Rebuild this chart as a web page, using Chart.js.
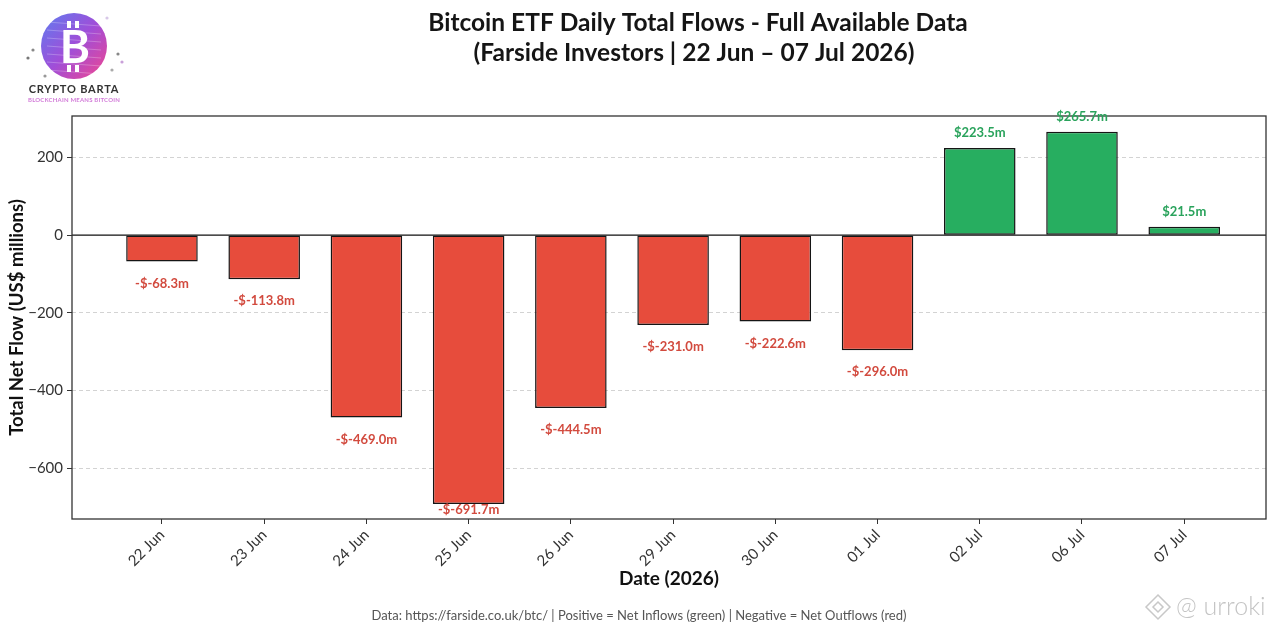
<!DOCTYPE html>
<html><head><meta charset="utf-8">
<script src="https://cdn.jsdelivr.net/npm/chart.js@4.4.1/dist/chart.umd.min.js"></script>
<style>html,body{margin:0;padding:0;background:#fff;overflow:hidden}#wrap{width:1280px;height:634px;position:relative}</style>
</head><body><div id="wrap"><canvas id="c" width="1280" height="634"></canvas></div>
<script>
const categories = ['22 Jun','23 Jun','24 Jun','25 Jun','26 Jun','29 Jun','30 Jun','01 Jul','02 Jul','06 Jul','07 Jul'];
const flows = [-68.3, -113.8, -469.0, -691.7, -444.5, -231.0, -222.6, -296.0, 223.5, 265.7, 21.5];
const yTicks = [-600, -400, -200, 0, 200];
const titleLines = ['Bitcoin ETF Daily Total Flows - Full Available Data', '(Farside Investors | 22 Jun \u2013 07 Jul 2026)'];
const xTitle = 'Date (2026)';
const yTitle = 'Total Net Flow (US$ millions)';
const footer = 'Data: https://farside.co.uk/btc/ | Positive = Net Inflows (green) | Negative = Net Outflows (red)';

const FONT = 'Lato';
const fmtLabel = v => v >= 0 ? '$' + v.toFixed(1) + 'm' : '-$' + v.toFixed(1) + 'm';

function drawLogo(ctx){
  const cx = 74, cy = 46, r = 33;
  ctx.save();
  const g = ctx.createLinearGradient(cx - r, cy - r, cx + r, cy + r);
  g.addColorStop(0, '#5d7df0'); g.addColorStop(0.5, '#a04ed8'); g.addColorStop(1, '#f2458e');
  ctx.beginPath(); ctx.arc(cx, cy, r, 0, Math.PI * 2); ctx.fillStyle = g; ctx.fill();
  ctx.strokeStyle = 'rgba(255,255,255,0.25)'; ctx.lineWidth = 1;
  for (let k = -3; k <= 3; k++) { ctx.beginPath(); ctx.moveTo(cx - r + 6, cy + k * 8); ctx.lineTo(cx + r - 6, cy + k * 8 + 4); ctx.stroke(); }
  ctx.fillStyle = '#fff';
  ctx.font = 'bold 46px ' + FONT; ctx.textAlign = 'center'; ctx.textBaseline = 'middle';
  ctx.fillText('B', cx + 1, cy + 2);
  ctx.fillRect(cx - 7, cy - 25, 4, 7); ctx.fillRect(cx + 1, cy - 25, 4, 7);
  ctx.fillRect(cx - 7, cy + 19, 4, 7); ctx.fillRect(cx + 1, cy + 19, 4, 7);
  const dots = [[33,50,'#888'],[28,58,'#777'],[118,54,'#888'],[122,62,'#c9a0d9'],[107,18,'#d8c8e8'],[45,76,'#999'],[112,70,'#aaa']];
  dots.forEach(d => { ctx.beginPath(); ctx.arc(d[0], d[1], 1.6, 0, Math.PI * 2); ctx.fillStyle = d[2]; ctx.fill(); });
  ctx.fillStyle = '#333'; ctx.font = 'bold 11px ' + FONT;
  try { ctx.letterSpacing = '0.8px'; } catch(e) {}
  ctx.fillText('CRYPTO BARTA', 74, 89);
  ctx.fillStyle = '#d27ad8'; ctx.font = 'bold 6px ' + FONT;
  try { ctx.letterSpacing = '0.2px'; } catch(e) {}
  ctx.fillText('BLOCKCHAIN MEANS BITCOIN', 74, 100);
  ctx.restore();
}

function drawWatermark(ctx){
  ctx.save();
  ctx.strokeStyle = '#c8c8c8'; ctx.lineWidth = 1.5;
  const x = 1158, y = 607;
  ctx.beginPath(); ctx.moveTo(x, y - 12); ctx.lineTo(x + 12, y); ctx.lineTo(x, y + 12); ctx.lineTo(x - 12, y); ctx.closePath(); ctx.stroke();
  ctx.beginPath(); ctx.moveTo(x, y - 5); ctx.lineTo(x + 5, y); ctx.lineTo(x, y + 5); ctx.lineTo(x - 5, y); ctx.closePath(); ctx.stroke();
  ctx.fillStyle = '#c4c4c4'; ctx.font = '300 25px ' + FONT; ctx.textAlign = 'left'; ctx.textBaseline = 'middle';
  ctx.fillText('@ urroki', 1176, 607);
  ctx.restore();
}

const deco = {
  id: 'deco',
  beforeDraw(chart){
    const ctx = chart.ctx; ctx.save(); ctx.fillStyle = '#fff'; ctx.fillRect(0, 0, chart.width, chart.height); ctx.restore();
  },
  afterDatasetsDraw(chart){
    const ctx = chart.ctx, a = chart.chartArea, ys = chart.scales.y;
    ctx.save();
    const y0 = ys.getPixelForValue(0);
    ctx.strokeStyle = '#111'; ctx.lineWidth = 1.3;
    ctx.beginPath(); ctx.moveTo(a.left, y0); ctx.lineTo(a.right, y0); ctx.stroke();
    ctx.strokeStyle = '#333'; ctx.lineWidth = 1.3;
    ctx.strokeRect(a.left, a.top, a.right - a.left, a.bottom - a.top);
    ctx.font = 'bold 13px ' + FONT; ctx.textAlign = 'center'; ctx.textBaseline = 'middle';
    chart.getDatasetMeta(0).data.forEach((bar, i) => {
      const v = flows[i];
      let ty;
      if (v >= 0) { ctx.fillStyle = '#2aa35c'; ty = bar.y - 15; }
      else { ctx.fillStyle = '#d24a3e'; ty = Math.min(bar.y + 22, a.bottom - 9); }
      ctx.fillText(fmtLabel(v), bar.x, ty);
    });
    ctx.restore();
  },
  afterDraw(chart){
    const ctx = chart.ctx;
    ctx.save();
    ctx.fillStyle = '#151515'; ctx.textAlign = 'center'; ctx.textBaseline = 'middle';
    ctx.font = 'bold 24.5px ' + FONT;
    ctx.fillText(titleLines[0], 698, 23);
    ctx.fillText(titleLines[1], 694, 53);
    ctx.fillStyle = '#555'; ctx.font = '13px ' + FONT;
    ctx.fillText(footer, 639, 616);
    ctx.restore();
    drawLogo(ctx);
    drawWatermark(ctx);
  }
};

new Chart(document.getElementById('c'), {
  type: 'bar',
  data: {
    datasets: [{
      data: flows.map((v, i) => ({ x: i, y: v })),
      backgroundColor: flows.map(v => v >= 0 ? '#27ae60' : '#e74c3c'),
      borderColor: '#151515',
      borderWidth: 1.5,
      borderSkipped: false,
      barPercentage: 0.7,
      categoryPercentage: 1
    }]
  },
  options: {
    responsive: false,
    animation: false,
    devicePixelRatio: 1,
    layout: { padding: { top: 116, right: 14, left: 0, bottom: 0 } },
    plugins: { legend: { display: false }, tooltip: { enabled: false }, title: { display: false } },
    scales: {
      x: {
        type: 'linear', min: -0.88, max: 10.8, offset: false,
        afterBuildTicks: s => { s.ticks = categories.map((_, i) => ({ value: i })); },
        afterFit: s => { s.height = 115; },
        ticks: {
          callback: v => categories[v], autoSkip: false, minRotation: 45, maxRotation: 45,
          font: { family: FONT, size: 15 }, color: '#333', padding: 2
        },
        grid: { drawOnChartArea: false, drawTicks: true, tickLength: 5, tickColor: '#333', tickWidth: 1, offset: false },
        border: { display: false },
        title: { display: true, text: xTitle, color: '#111', font: { family: FONT, size: 19, weight: 'bold' }, padding: { top: 0, bottom: 44 } }
      },
      y: {
        type: 'linear', min: -730, max: 306,
        afterBuildTicks: s => { s.ticks = yTicks.map(v => ({ value: v })); },
        afterFit: s => { s.width = 72; },
        ticks: {
          callback: v => v < 0 ? '\u2212' + Math.abs(v) : String(v),
          font: { family: FONT, size: 15 }, color: '#333', padding: 4
        },
        grid: {
          color: c => (c.tick && c.tick.value === 0) ? 'rgba(0,0,0,0)' : '#c8c8c8',
          lineWidth: 0.8, tickLength: 5, tickColor: '#333', tickWidth: 1
        },
        border: { display: false, dash: [4, 3] },
        title: { display: true, text: yTitle, color: '#111', font: { family: FONT, size: 18.5, weight: 'bold' }, padding: { top: 6, bottom: 0 } }
      }
    }
  },
  plugins: [deco]
});
</script>
</body></html>
